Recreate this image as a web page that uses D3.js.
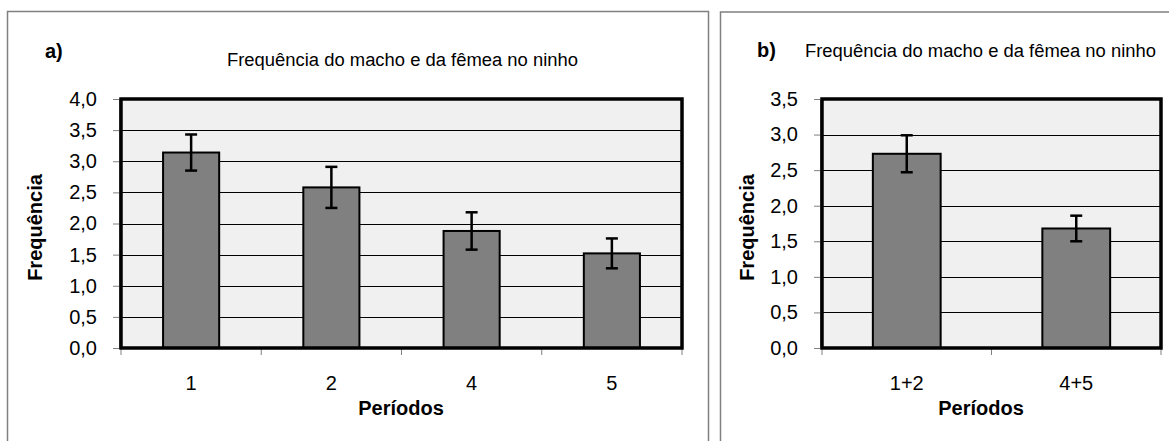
<!DOCTYPE html>
<html>
<head>
<meta charset="utf-8">
<script src="https://cdn.jsdelivr.net/npm/d3@7"></script>
<style>
  html, body { margin: 0; padding: 0; background: #fff; }
  svg { display: block; }
</style>
</head>
<body>
<svg id="chart" width="1169" height="441"></svg>
<script>
// ---- Data ----
const chartTitle = "Frequência do macho e da fêmea no ninho";
const yTitle = "Frequência";
const xTitle = "Períodos";

const categoriesA = ["1", "2", "4", "5"];
const valuesA = [3.14, 2.58, 1.88, 1.52];
const errorsA = [0.29, 0.33, 0.30, 0.24];
const yTicksA = [0, 0.5, 1, 1.5, 2, 2.5, 3, 3.5, 4];

const categoriesB = ["1+2", "4+5"];
const valuesB = [2.73, 1.68];
const errorsB = [0.26, 0.18];
const yTicksB = [0, 0.5, 1, 1.5, 2, 2.5, 3, 3.5];

const svg = d3.select("#chart");
const fmt = d => d.toFixed(1).replace(".", ",");
const SANS = "'Liberation Sans', Arial, Helvetica, sans-serif";
const NARROW = "'Liberation Sans Narrow', 'Arial Narrow', 'Liberation Sans', sans-serif";

// panel frames
svg.append("rect").attr("x", 7.5).attr("y", 11.5).attr("width", 701).attr("height", 460)
  .attr("fill", "none").attr("stroke", "#808080").attr("stroke-width", 1.5);
svg.append("rect").attr("x", 720.5).attr("y", 12).attr("width", 470).attr("height", 460)
  .attr("fill", "none").attr("stroke", "#808080").attr("stroke-width", 1.5);

function panel(cfg) {
  const g = svg.append("g");
  const x = d3.scaleBand().domain(cfg.categories).range([cfg.x0, cfg.x1])
    .paddingInner(0.6).paddingOuter(0.3);
  const y = d3.scaleLinear().domain([0, cfg.yMax]).range([cfg.y1, cfg.y0]);

  // plot background
  g.append("rect").attr("x", cfg.x0).attr("y", cfg.y0)
    .attr("width", cfg.x1 - cfg.x0).attr("height", cfg.y1 - cfg.y0)
    .attr("fill", "#f0f0f0");

  // gridlines
  g.selectAll(".grid").data(cfg.yTicks.filter(t => t > 0 && t < cfg.yMax)).enter()
    .append("line")
    .attr("x1", cfg.x0).attr("x2", cfg.x1)
    .attr("y1", d => Math.round(y(d)) + 0.5).attr("y2", d => Math.round(y(d)) + 0.5)
    .attr("stroke", "#000").attr("stroke-width", 1);

  // y axis
  const yAxis = d3.axisLeft(y).tickValues(cfg.yTicks).tickFormat(fmt).tickSize(6).tickPadding(16);
  const ya = g.append("g").attr("transform", `translate(${cfg.x0 - 2},0)`).call(yAxis);
  ya.select(".domain").attr("stroke", "#808080").attr("stroke-width", 1);
  ya.selectAll(".tick line").attr("stroke", "#808080");
  ya.selectAll("text").attr("font-family", SANS).attr("font-size", 20).attr("fill", "#000");

  // x axis
  const edges = cfg.categories.map(c => x(c) - x.step() * 0.3).concat([cfg.x1]);
  g.selectAll(".xt").data(edges).enter().append("line")
    .attr("x1", d => d).attr("x2", d => d)
    .attr("y1", cfg.y1).attr("y2", cfg.y1 + 7)
    .attr("stroke", "#808080").attr("stroke-width", 1);
  g.selectAll(".xl").data(cfg.categories).enter().append("text")
    .attr("x", d => x(d) + x.bandwidth() / 2).attr("y", 390)
    .attr("text-anchor", "middle").attr("font-family", SANS).attr("font-size", 20)
    .text(d => d);

  // bars
  g.selectAll(".bar").data(cfg.values).enter().append("rect")
    .attr("x", (d, i) => x(cfg.categories[i]))
    .attr("y", d => y(d))
    .attr("width", x.bandwidth())
    .attr("height", d => cfg.y1 - y(d))
    .attr("fill", "#808080").attr("stroke", "#000").attr("stroke-width", 2);

  // error bars
  const eg = g.selectAll(".err").data(cfg.values).enter().append("g");
  const cx = (i) => x(cfg.categories[i]) + x.bandwidth() / 2;
  eg.append("line")
    .attr("x1", (d, i) => cx(i)).attr("x2", (d, i) => cx(i))
    .attr("y1", (d, i) => y(d + cfg.errors[i])).attr("y2", (d, i) => y(d - cfg.errors[i]))
    .attr("stroke", "#000").attr("stroke-width", 2.5);
  eg.append("line")
    .attr("x1", (d, i) => cx(i) - 6).attr("x2", (d, i) => cx(i) + 6)
    .attr("y1", (d, i) => y(d + cfg.errors[i])).attr("y2", (d, i) => y(d + cfg.errors[i]))
    .attr("stroke", "#000").attr("stroke-width", 2.5);
  eg.append("line")
    .attr("x1", (d, i) => cx(i) - 6).attr("x2", (d, i) => cx(i) + 6)
    .attr("y1", (d, i) => y(d - cfg.errors[i])).attr("y2", (d, i) => y(d - cfg.errors[i]))
    .attr("stroke", "#000").attr("stroke-width", 2.5);

  // plot border
  g.append("rect").attr("x", cfg.x0).attr("y", cfg.y0)
    .attr("width", cfg.x1 - cfg.x0).attr("height", cfg.y1 - cfg.y0)
    .attr("fill", "none").attr("stroke", "#000").attr("stroke-width", 3.5);

  // titles
  g.append("text").attr("x", cfg.xTitleX).attr("y", 415)
    .attr("text-anchor", "middle").attr("font-family", SANS).attr("font-size", 20)
    .attr("font-weight", "bold").text(xTitle);
  g.append("text")
    .attr("transform", `translate(${cfg.yTitleX},${(cfg.y0 + cfg.y1) / 2 + 4}) rotate(-90)`)
    .attr("text-anchor", "middle").attr("dy", "0.35em").attr("font-family", SANS)
    .attr("font-size", 20).attr("font-weight", "bold").text(yTitle);
  g.append("text").attr("x", cfg.labelX).attr("y", cfg.labelY)
    .attr("font-family", SANS).attr("font-size", 20).attr("font-weight", "bold").text(cfg.label);
  g.append("text").attr("x", cfg.titleX).attr("y", cfg.titleY)
    .attr("font-family", NARROW).attr("font-size", 18)
    .attr("textLength", cfg.titleLen).attr("lengthAdjust", "spacingAndGlyphs")
    .text(chartTitle);
}

panel({
  categories: categoriesA, values: valuesA, errors: errorsA, yTicks: yTicksA, yMax: 4,
  x0: 121, x1: 682, y0: 99, y1: 348,
  xTitleX: 401, yTitleX: 35,
  label: "a)", labelX: 45, labelY: 58,
  titleX: 227, titleY: 66, titleLen: 351
});
panel({
  categories: categoriesB, values: valuesB, errors: errorsB, yTicks: yTicksB, yMax: 3.5,
  x0: 822, x1: 1161, y0: 99, y1: 348,
  xTitleX: 981, yTitleX: 747,
  label: "b)", labelX: 757, labelY: 57,
  titleX: 805, titleY: 57, titleLen: 351
});
</script>
</body>
</html>
